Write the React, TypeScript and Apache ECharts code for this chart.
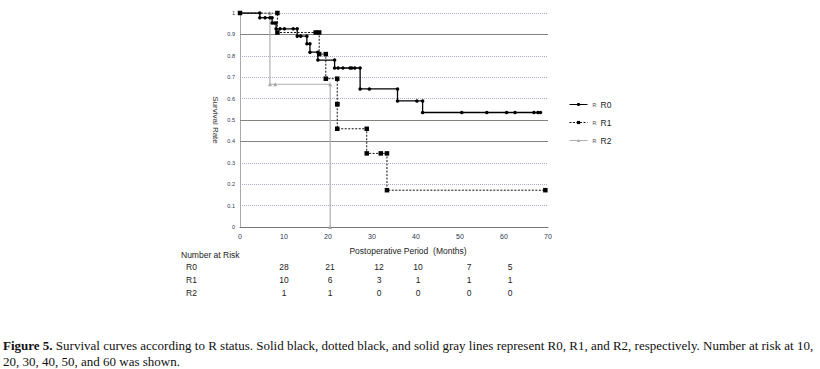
import React, { useEffect, useRef } from "react";
import * as echarts from "echarts";

// ---- data ----
const seriesNames = ["R0", "R1", "R2"];

const r0EventTimes = [4.5, 7.3, 8.2, 13.0, 15.2, 15.9, 17.7, 21.5, 27.3, 35.8, 41.5];
const r0EventSurv = [0.978, 0.953, 0.926, 0.892, 0.856, 0.817, 0.78, 0.743, 0.645, 0.589, 0.535];
const r0Censored = [5.7, 6.8, 7.8, 9.1, 10.1, 12.1, 13.8, 22.3, 23.4, 25.0, 25.4, 26.1, 29.4, 40.2, 50.4, 56.1, 60.6, 62.5, 66.8, 67.7];
const r0End = 68.3;

const r1EventTimes = [8.5, 18.0, 19.5, 22.1, 22.1, 28.8, 33.4];
const r1EventSurv = [0.909, 0.808, 0.693, 0.574, 0.459, 0.344, 0.172];
const r1Censored = [17.2, 32.0];
const r1End = 69.4;

const r2EventTimes = [6.8, 20.5];
const r2EventSurv = [0.667, 0];
const r2Censored = [8.0];
const r2End = 20.5;

const riskTimes = ["10", "20", "30", "40", "50", "60"];
const riskR0 = [28, 21, 12, 10, 7, 5];
const riskR1 = [10, 6, 3, 1, 1, 1];
const riskR2 = [1, 1, 0, 0, 0, 0];

const emphasisGridValues = [0.9, 0.5, 0.4];

const captionLine1 =
  "Survival curves according to R status. Solid black, dotted black, and solid gray lines represent R0, R1, and R2, respectively. Number at risk at 10,";
const captionLine2 = "20, 30, 40, 50, and 60 was shown.";

function buildSteps(evT: number[], evS: number[], cens: number[], end: number) {
  const pts: number[][] = [[0, 1]];
  const items = [
    ...evT.map((t, i) => ({ t, s: evS[i], e: true })),
    ...cens.map((t) => ({ t, s: 0, e: false })),
  ].sort((a, b) => a.t - b.t || (a.e ? 1 : -1));
  let cur = 1;
  for (const it of items) {
    if (it.e) {
      pts.push([it.t, cur]);
      cur = it.s;
      pts.push([it.t, cur]);
    } else {
      pts.push([it.t, cur]);
    }
  }
  const last = pts[pts.length - 1];
  if (!(last[0] === end && last[1] === cur)) pts.push([end, cur]);
  return pts;
}

export default function App() {
  const ref = useRef<HTMLDivElement>(null);

  useEffect(() => {
    document.body.style.margin = "0";
    const chart = echarts.init(ref.current!, null, { renderer: "svg" });

    const sans = "Liberation Sans";
    const colX = [284, 330, 379, 418, 469, 510];
    const rowY = [266.5, 279.5, 292.5];
    const rows = [riskR0, riskR1, riskR2];
    const tFont = `8.5px "${sans}"`;

    const tableGraphics: any[] = [
      {
        type: "text",
        x: 181,
        y: 255,
        style: { text: "Number at Risk", font: tFont, fill: "#222", verticalAlign: "middle" },
      },
    ];
    rows.forEach((vals, ri) => {
      tableGraphics.push({
        type: "text",
        x: 186,
        y: rowY[ri],
        style: { text: seriesNames[ri], font: tFont, fill: "#222", verticalAlign: "middle" },
      });
      vals.forEach((v, ci) => {
        tableGraphics.push({
          type: "text",
          x: colX[ci],
          y: rowY[ri],
          style: {
            text: String(v),
            font: tFont,
            fill: "#222",
            align: "center",
            verticalAlign: "middle",
          },
        });
      });
    });

    const capFont = `13px "Liberation Serif"`;
    const caption = [
      {
        type: "text",
        x: 3,
        y: 345,
        style: {
          text: "{b|Figure 5.} " + captionLine1,
          font: capFont,
          fill: "#111",
          verticalAlign: "middle",
          rich: { b: { font: `bold 13px "Liberation Serif"` } },
        },
      },
      {
        type: "text",
        x: 3,
        y: 361,
        style: { text: captionLine2, font: capFont, fill: "#111", verticalAlign: "middle" },
      },
    ];

    chart.setOption({
      animation: false,
      backgroundColor: "#fff",
      textStyle: { fontFamily: sans },
      grid: { left: 240, top: 13, width: 308, height: 214 },
      legend: {
        data: seriesNames,
        orient: "vertical",
        left: 564,
        top: 95,
        itemWidth: 18,
        itemHeight: 4,
        itemGap: 9,
        lineStyle: { width: 1 },
        formatter: (name: string) => `{a|R:}{b|${name}}`,
        textStyle: {
          color: "#222",
          rich: {
            a: { fontSize: 5, width: 8, color: "#444" },
            b: { fontSize: 8.5, color: "#222" },
          },
        },
      },
      xAxis: {
        type: "value",
        min: 0,
        max: 70,
        interval: 10,
        name: "Postoperative Period  (Months)",
        nameLocation: "middle",
        nameGap: 19,
        nameTextStyle: { fontSize: 8.5, color: "#222", padding: [0, 0, 0, 28] },
        axisLine: { show: true, lineStyle: { color: "#777", width: 1 } },
        axisTick: { show: false },
        splitLine: { show: false },
        axisLabel: { fontSize: 7, color: "#2a3550", margin: 6 },
      },
      yAxis: {
        type: "value",
        min: 0,
        max: 1,
        interval: 0.1,
        name: "Survival Rate",
        nameLocation: "middle",
        nameRotate: -90,
        nameGap: 21,
        nameTextStyle: { fontSize: 8, color: "#333" },
        axisLine: { show: true, lineStyle: { color: "#aaa", width: 1 } },
        axisTick: { show: false },
        axisLabel: {
          fontSize: 5.5,
          color: "#2a3550",
          margin: 5,
          formatter: (v: number) => String(+v.toFixed(1)),
        },
        splitLine: { show: true, lineStyle: { color: "#b6a6c6", type: [1, 1], width: 1 } },
      },
      graphic: [...tableGraphics, ...caption],
      series: [
        {
          name: "R0",
          type: "line",
          data: buildSteps(r0EventTimes, r0EventSurv, r0Censored, r0End),
          symbol: "circle",
          symbolSize: 3.5,
          showAllSymbol: true,
          z: 4,
          lineStyle: { color: "#000", width: 1.3 },
          itemStyle: { color: "#000" },
          markLine: {
            silent: true,
            symbol: "none",
            label: { show: false },
            lineStyle: { color: "#7d857d", type: "solid", width: 1 },
            data: emphasisGridValues.map((v) => ({ yAxis: v })),
            z: 1,
          },
        },
        {
          name: "R1",
          type: "line",
          data: buildSteps(r1EventTimes, r1EventSurv, r1Censored, r1End),
          symbol: "rect",
          symbolSize: 4.5,
          showAllSymbol: true,
          z: 3,
          lineStyle: { color: "#111", width: 1, type: [2, 1.5] },
          itemStyle: { color: "#000" },
        },
        {
          name: "R2",
          type: "line",
          data: buildSteps(r2EventTimes, r2EventSurv, r2Censored, r2End),
          symbol: "triangle",
          symbolSize: 4,
          showAllSymbol: true,
          z: 2,
          lineStyle: { color: "#b0b0b0", width: 1.2 },
          itemStyle: { color: "#a8a8a8" },
        },
      ],
    });

    return () => chart.dispose();
  }, []);

  return <div ref={ref} style={{ width: 820, height: 369 }} />;
}
